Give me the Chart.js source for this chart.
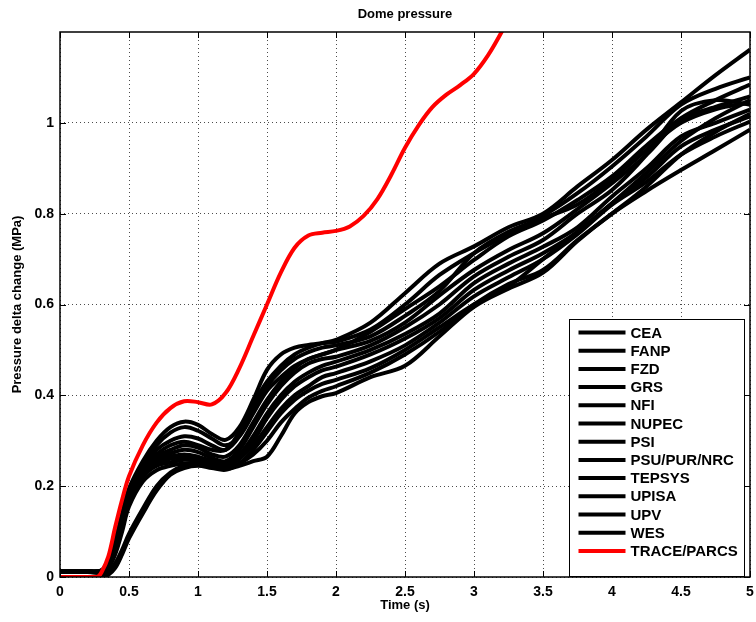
<!DOCTYPE html>
<html><head><meta charset="utf-8">
<script src="https://cdn.jsdelivr.net/npm/chart.js@4"></script>
<style>html,body{margin:0;padding:0;background:#fff;}</style>
</head><body>
<canvas id="c" width="756" height="622" style="display:block;width:756px;height:622px"></canvas>
<script>
// ---- data ----
const times = [0,0.1,0.2,0.3,0.35,0.4,0.45,0.5,0.6,0.7,0.8,0.9,1.0,1.1,1.2,1.3,1.4,1.5,1.6,1.7,1.8,1.9,2.0,2.25,2.5,2.75,3.0,3.25,3.5,3.75,4.0,4.25,4.5,4.75,5.0];
const CEA    = [0.012,0.012,0.012,0.014,0.03,0.07,0.13,0.19,0.24,0.27,0.29,0.298,0.29,0.28,0.28, 0.32,0.38,0.43,0.465,0.49,0.505,0.515,0.522, 0.56,0.625,0.69,0.728,0.77,0.80,0.86,0.918,0.985,1.045,1.105,1.161];
const FANP   = [0.012,0.012,0.012,0.015,0.035,0.08,0.14,0.195,0.255,0.3,0.33,0.342,0.335,0.315,0.302, 0.33,0.39,0.456,0.49,0.505,0.511,0.515,0.518, 0.545,0.6,0.665,0.713,0.755,0.795,0.845,0.904,0.97,1.04,1.075,1.10];
const FZD    = [0,0,0,0.005,0.03,0.075,0.135,0.19,0.24,0.265,0.28,0.29,0.285,0.27,0.265, 0.29,0.34,0.39,0.43,0.46,0.48,0.49,0.5, 0.54,0.59,0.64,0.698,0.75,0.785,0.83,0.882,0.95,1.01,1.05,1.084];
const GRS    = [0.012,0.012,0.012,0.014,0.03,0.075,0.13,0.185,0.245,0.29,0.318,0.33,0.322,0.305,0.29, 0.31,0.36,0.41,0.44,0.465,0.48,0.49,0.5, 0.52,0.56,0.62,0.676,0.72,0.757,0.81,0.867,0.93,1.007,1.035,1.058];
const NFI    = [0.012,0.012,0.012,0.013,0.025,0.065,0.125,0.18,0.235,0.26,0.272,0.28,0.275,0.262,0.255, 0.28,0.33,0.38,0.42,0.45,0.47,0.48,0.485, 0.51,0.55,0.6,0.662,0.705,0.742,0.8,0.852,0.93,1.026,1.05,1.04];
const NUPEC  = [0,0,0,0.003,0.025,0.065,0.12,0.175,0.23,0.255,0.265,0.27,0.265,0.255,0.25, 0.27,0.31,0.36,0.4,0.43,0.45,0.465,0.474, 0.5,0.535,0.58,0.647,0.69,0.727,0.77,0.838,0.9,0.97,1.0,1.029];
const PSI    = [0.012,0.012,0.012,0.013,0.025,0.06,0.115,0.17,0.225,0.25,0.26,0.265,0.26,0.25,0.245, 0.265,0.3,0.35,0.39,0.42,0.44,0.455,0.463, 0.49,0.525,0.57,0.632,0.675,0.713,0.76,0.823,0.88,0.948,0.985,1.014];
const PSU    = [0,0,0,0.003,0.02,0.055,0.11,0.165,0.22,0.245,0.252,0.258,0.255,0.248,0.242, 0.26,0.29,0.33,0.37,0.4,0.42,0.44,0.449, 0.475,0.51,0.56,0.618,0.66,0.70,0.755,0.82,0.87,0.93,0.97,1.003];
const TEPSYS = [0.012,0.012,0.012,0.013,0.02,0.05,0.1,0.155,0.21,0.235,0.245,0.25,0.25,0.245,0.24, 0.25,0.28,0.32,0.36,0.39,0.41,0.425,0.434, 0.46,0.5,0.55,0.6,0.64,0.7,0.76,0.823,0.89,0.96,1.01,1.05];
const UPISA  = [0,0,0,0,0.01,0.03,0.06,0.095,0.15,0.2,0.23,0.245,0.25,0.245,0.238, 0.245,0.255,0.265,0.31,0.36,0.385,0.398,0.405, 0.44,0.465,0.53,0.595,0.635,0.67,0.74,0.80,0.85,0.896,0.94,0.985];
const UPV    = [0,0,0,0,0.005,0.02,0.05,0.085,0.14,0.19,0.225,0.24,0.245,0.24,0.236, 0.25,0.27,0.3,0.34,0.37,0.395,0.41,0.42, 0.45,0.49,0.54,0.6,0.645,0.676,0.742,0.80,0.86,0.93,0.98,1.02];
const WES    = [0.012,0.012,0.012,0.014,0.03,0.07,0.13,0.185,0.245,0.28,0.3,0.31,0.305,0.29,0.28, 0.31,0.37,0.42,0.455,0.48,0.495,0.505,0.51, 0.53,0.575,0.63,0.713,0.76,0.79,0.82,0.875,0.94,1.0,1.03,1.045];
const traceTimes = [0,0.1,0.2,0.27,0.3,0.35,0.4,0.45,0.5,0.6,0.7,0.8,0.9,1.0,1.1,1.2,1.3,1.4,1.5,1.6,1.7,1.8,1.9,2.0,2.1,2.2,2.3,2.4,2.5,2.6,2.7,2.8,2.9,3.0,3.1,3.2,3.3];
const TRACE  = [0,0,0,0,0.01,0.045,0.11,0.17,0.222,0.29,0.34,0.372,0.387,0.385,0.38,0.405,0.46,0.53,0.6,0.67,0.725,0.752,0.758,0.762,0.772,0.795,0.832,0.885,0.945,0.995,1.035,1.062,1.083,1.108,1.148,1.2,1.26];
const seriesNames = ['CEA','FANP','FZD','GRS','NFI','NUPEC','PSI','PSU/PUR/NRC','TEPSYS','UPISA','UPV','WES'];
const seriesValues = [CEA,FANP,FZD,GRS,NFI,NUPEC,PSI,PSU,TEPSYS,UPISA,UPV,WES];
const xTickStep = 0.5, yTickStep = 0.2;

const FONT = "'Liberation Sans', Arial, Helvetica, sans-serif";
const pairs = (xs, ys) => xs.map((x, i) => ({x, y: ys[i]}));
const fmt = v => String(Number(v.toFixed(2)));

const datasets = seriesNames.map((n, i) => ({
  label: n, data: pairs(times, seriesValues[i]),
  borderColor: '#000', backgroundColor: '#000', borderWidth: 4,
  pointRadius: 0, tension: 0.35, fill: false, order: 1
}));
datasets.push({
  label: 'TRACE/PARCS', data: pairs(traceTimes, TRACE),
  borderColor: '#ff0000', backgroundColor: '#ff0000', borderWidth: 4,
  pointRadius: 0, tension: 0.35, fill: false, order: 0
});

const framePlugin = {
  id: 'frame',
  afterDraw(chart) {
    const {ctx, chartArea: ca, scales} = chart;
    ctx.save();
    ctx.strokeStyle = '#000'; ctx.lineWidth = 1;
    const tl = 6;
    scales.x.ticks.forEach(t => {
      const px = Math.round(scales.x.getPixelForValue(t.value)) + 0.5;
      ctx.beginPath();
      ctx.moveTo(px, ca.bottom); ctx.lineTo(px, ca.bottom - tl);
      ctx.moveTo(px, ca.top); ctx.lineTo(px, ca.top + tl);
      ctx.stroke();
    });
    scales.y.ticks.forEach(t => {
      const py = Math.round(scales.y.getPixelForValue(t.value)) + 0.5;
      ctx.beginPath();
      ctx.moveTo(ca.left, py); ctx.lineTo(ca.left + tl, py);
      ctx.moveTo(ca.right, py); ctx.lineTo(ca.right - tl, py);
      ctx.stroke();
    });
    ctx.lineWidth = 1.5;
    ctx.strokeRect(ca.left, ca.top, ca.right - ca.left, ca.bottom - ca.top);

    // legend box
    const ds = chart.data.datasets;
    const bw = 175, bh = 257;
    const bx = Math.round(ca.right - 181) + 0.5, by = Math.round(ca.bottom - 258) + 0.5;
    ctx.fillStyle = '#fff';
    ctx.fillRect(bx, by, bw, bh);
    ctx.lineWidth = 1; ctx.strokeStyle = '#000';
    ctx.strokeRect(bx, by, bw, bh);
    ctx.font = 'bold 15px ' + FONT;
    ctx.textBaseline = 'middle'; ctx.textAlign = 'left';
    ds.forEach((d, i) => {
      const y = by + 13 + i * 18.2;
      ctx.strokeStyle = d.borderColor; ctx.lineWidth = 4;
      ctx.beginPath(); ctx.moveTo(bx + 9, y); ctx.lineTo(bx + 56, y); ctx.stroke();
      ctx.fillStyle = '#000';
      ctx.fillText(d.label, bx + 61, y + 1);
    });
    ctx.restore();
  }
};

new Chart(document.getElementById('c'), {
  type: 'line',
  data: {datasets},
  options: {
    responsive: false, animation: false, devicePixelRatio: 1,
    layout: {padding: {left: 0, right: 6, top: 0, bottom: 0}},
    plugins: {
      legend: {display: false}, tooltip: {enabled: false},
      title: {display: true, text: 'Dome pressure', color: '#000', fullSize: false,
        font: {family: FONT, size: 13, weight: 'bold'}, padding: {top: 7, bottom: 9.4}}
    },
    scales: {
      x: {
        type: 'linear', min: 0, max: 5,
        ticks: {stepSize: xTickStep, color: '#000', padding: 7, maxRotation: 0,
          callback: v => fmt(v),
          font: {family: FONT, size: 14, weight: 'bold'}},
        grid: {color: 'rgba(0,0,0,0.7)', lineWidth: 1, drawTicks: false},
        border: {display: false, dash: [1,3]},
        title: {display: true, text: 'Time (s)', color: '#000',
          font: {family: FONT, size: 13, weight: 'bold'}, padding: {top: 0, bottom: 9}},
        afterFit(s) { s.height = 45; s.paddingLeft = 0; s.paddingRight = 0; }
      },
      y: {
        type: 'linear', min: 0, max: 1.2,
        ticks: {stepSize: yTickStep, color: '#000', padding: 6,
          callback: v => fmt(v),
          font: {family: FONT, size: 14, weight: 'bold'}},
        afterBuildTicks(s) { s.ticks = s.ticks.filter(t => t.value <= 1.0001); },
        grid: {color: 'rgba(0,0,0,0.7)', lineWidth: 1, drawTicks: false},
        border: {display: false, dash: [1,3]},
        title: {display: true, text: 'Pressure delta change (MPa)', color: '#000',
          font: {family: FONT, size: 13, weight: 'bold'}, padding: {top: 10, bottom: 0}},
        afterFit(s) { s.width = 60; s.paddingTop = 0; s.paddingBottom = 0; }
      }
    }
  },
  plugins: [framePlugin]
});
</script>
</body></html>
